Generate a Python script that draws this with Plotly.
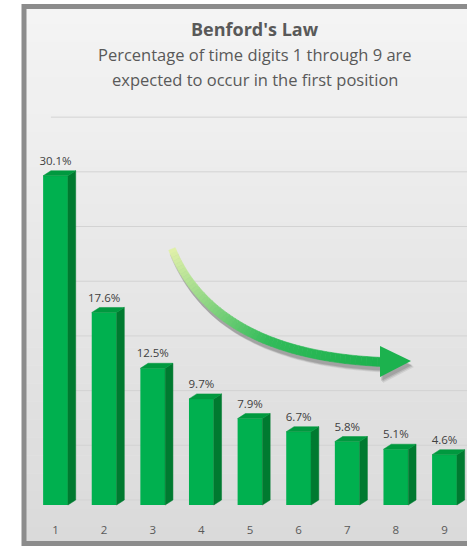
import plotly.graph_objects as go

# ---------------- data ----------------
digits = ["1", "2", "3", "4", "5", "6", "7", "8", "9"]
pct = [30.1, 17.6, 12.5, 9.7, 7.9, 6.7, 5.8, 5.1, 4.6]
grid_vals = [0, 5, 10, 15, 20, 25, 30, 35]
title = "Benford's Law"
subtitle1 = "Percentage of time digits 1 through 9 are"
subtitle2 = "expected to occur in the first position"

# ---------------- geometry / style ----------------
W, H = 467, 546
ML, MR, MT, MB = 28, 0, 112, 34
PW, PH = W - ML - MR, H - MT - MB
X0, X1 = 0.434, 9.463
Y0, Y1 = -1.097, 35.47
BW, DX, DY = 0.51, 0.16, 0.46
FONT = "Open Sans"
FRONT, SIDE, TOP = "#00b04f", "#007a30", "#00993f"

xs = list(range(1, len(digits) + 1))


def px2x(p):
    return (p - ML) / PW


def py2y(p):
    return (H - MB - p) / PH


fig = go.Figure()

# front faces
fig.add_trace(go.Bar(x=xs, y=pct, base=[-DY] * len(pct), width=BW,
                     marker=dict(color=FRONT, line=dict(width=0)),
                     hoverinfo="skip", showlegend=False))

# side and top faces derived from the values
sx, sy, tx, ty = [], [], [], []
for x, v in zip(xs, pct):
    r = x + BW / 2
    l = x - BW / 2
    sx += [r, r + DX, r + DX, r, r, None]
    sy += [-DY, 0, v, v - DY, -DY, None]
    tx += [l, l + DX, r + DX, r, l, None]
    ty += [v - DY, v, v, v - DY, v - DY, None]
fig.add_trace(go.Scatter(x=sx, y=sy, mode="lines", fill="toself", fillcolor=SIDE,
                         line=dict(width=0.5, color=SIDE), hoverinfo="skip", showlegend=False))
fig.add_trace(go.Scatter(x=tx, y=ty, mode="lines", fill="toself", fillcolor=TOP,
                         line=dict(width=0.5, color=TOP), hoverinfo="skip", showlegend=False))

# data labels
fig.add_trace(go.Scatter(x=xs, y=[v + 0.8 for v in pct], mode="text",
                         text=[f"{v:.1f}%" for v in pct],
                         textfont=dict(family=FONT, size=11.5, color="#404040"),
                         hoverinfo="skip", showlegend=False))

shapes = []
# background gradient (decorative)
n = 30
top_px, bot_px = 6, 545
c0, c1 = (245, 245, 245), (218, 218, 218)
for i in range(n):
    a = top_px + (bot_px - top_px) * i / n
    b = top_px + (bot_px - top_px) * (i + 1) / n + 0.5
    t = (i + 0.5) / n
    c = tuple(int(c0[k] + (c1[k] - c0[k]) * t) for k in range(3))
    shapes.append(dict(type="rect", xref="paper", yref="paper", layer="below",
                       x0=px2x(24), x1=px2x(490), y0=py2y(b), y1=py2y(a),
                       fillcolor=f"rgb{c}", line=dict(width=0)))
# frame
shapes.append(dict(type="rect", xref="paper", yref="paper", layer="below",
                   x0=px2x(24), x1=px2x(495), y0=py2y(543.5), y1=py2y(6.5),
                   fillcolor="rgba(0,0,0,0)", line=dict(color="#8c8c8c", width=5)))

# gridlines on the back wall
for g in grid_vals:
    shapes.append(dict(type="line", xref="x", yref="y", layer="below",
                       x0=1 - BW / 2 + DX, x1=X1 + 1, y0=g, y1=g,
                       line=dict(color="#d3d3d3", width=1)))

# curved arrow (decorative), in pixel space
P0, P1, P2 = (172, 249), (215, 355), (383, 362)
N = 60


def bez(t):
    return ((1 - t) ** 2 * P0[0] + 2 * (1 - t) * t * P1[0] + t * t * P2[0],
            (1 - t) ** 2 * P0[1] + 2 * (1 - t) * t * P1[1] + t * t * P2[1])


def deriv(t):
    return (2 * (1 - t) * (P1[0] - P0[0]) + 2 * t * (P2[0] - P1[0]),
            2 * (1 - t) * (P1[1] - P0[1]) + 2 * t * (P2[1] - P1[1]))


pts, norms, widths = [], [], []
for i in range(N + 1):
    t = i / N
    p = bez(t)
    d = deriv(t)
    m = (d[0] ** 2 + d[1] ** 2) ** 0.5
    pts.append(p)
    norms.append((-d[1] / m, d[0] / m))
    widths.append(7 + 2 * min(1, t * 2.5))


def path(poly, ox=0, oy=0):
    s = "M " + " L ".join(f"{px2x(x + ox):.5f},{py2y(y + oy):.5f}" for x, y in poly)
    return s + " Z"


left = [(p[0] + nm[0] * w / 2, p[1] + nm[1] * w / 2) for p, nm, w in zip(pts, norms, widths)]
right = [(p[0] - nm[0] * w / 2, p[1] - nm[1] * w / 2) for p, nm, w in zip(pts, norms, widths)]
shaft = left + right[::-1]
head = [(380, 346), (411, 361), (380, 377)]

# shadow
for (ox, oy, op) in [(3, 6, 0.10), (2, 5, 0.16), (1, 4, 0.18)]:
    shapes.append(dict(type="path", xref="paper", yref="paper", path=path(shaft, ox, oy),
                       fillcolor=f"rgba(60,60,60,{op})", line=dict(width=0)))
    shapes.append(dict(type="path", xref="paper", yref="paper", path=path(head, ox, oy),
                       fillcolor=f"rgba(60,60,60,{op})", line=dict(width=0)))

stops = [(0.0, (226, 241, 170)), (0.3, (140, 214, 130)), (0.6, (50, 188, 90)), (1.0, (28, 178, 78))]


def col(t):
    for (ta, ca), (tb, cb) in zip(stops, stops[1:]):
        if ta <= t <= tb:
            f = (t - ta) / (tb - ta)
            return tuple(int(ca[k] + (cb[k] - ca[k]) * f) for k in range(3))
    return stops[-1][1]


for i in range(N):
    quad = [left[i], left[i + 1], right[i + 1], right[i]]
    c = col((i + 0.5) / N)
    shapes.append(dict(type="path", xref="paper", yref="paper", path=path(quad),
                       fillcolor=f"rgb{c}", line=dict(width=0.6, color=f"rgb{c}")))
shapes.append(dict(type="path", xref="paper", yref="paper", path=path(head),
                   fillcolor="rgb(28,178,78)", line=dict(width=0)))

annotations = [
    dict(text=f"<b>{title}</b>", xref="paper", yref="paper", x=px2x(255), y=py2y(29),
         showarrow=False, xanchor="center", yanchor="middle",
         font=dict(family=FONT, size=18, color="#595959")),
    dict(text=subtitle1, xref="paper", yref="paper", x=px2x(255), y=py2y(55),
         showarrow=False, xanchor="center", yanchor="middle",
         font=dict(family=FONT, size=16.5, color="#595959")),
    dict(text=subtitle2, xref="paper", yref="paper", x=px2x(255), y=py2y(79),
         showarrow=False, xanchor="center", yanchor="middle",
         font=dict(family=FONT, size=16.5, color="#595959")),
]

fig.update_layout(
    width=W, height=H,
    margin=dict(l=ML, r=MR, t=MT, b=MB, pad=0),
    paper_bgcolor="white", plot_bgcolor="rgba(0,0,0,0)",
    shapes=shapes, annotations=annotations,
    showlegend=False, barmode="overlay",
    xaxis=dict(range=[X0, X1], tickvals=xs, ticktext=digits, showgrid=False,
               zeroline=False, showline=False, ticks="outside", ticklen=7,
               tickcolor="rgba(0,0,0,0)",
               tickfont=dict(family=FONT, size=11.5, color="#595959"), fixedrange=True),
    yaxis=dict(range=[Y0, Y1], showgrid=False, zeroline=False, showline=False,
               showticklabels=False, fixedrange=True),
)

fig.write_html("out.html", config={"displayModeBar": False})
